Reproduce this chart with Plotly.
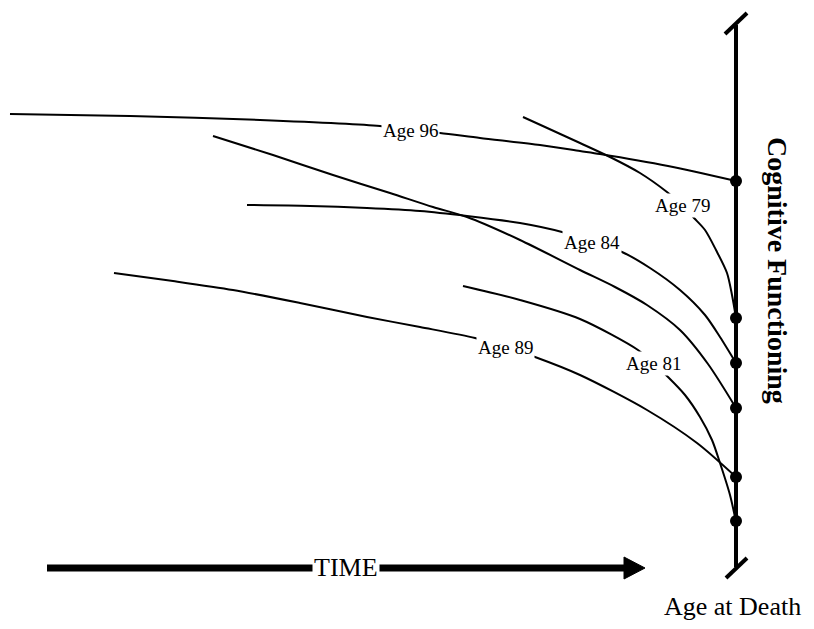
import plotly.graph_objects as go

# ---- data (time position, cognitive-functioning position; screen-like units) ----
age96_t = [10, 130, 260, 380, 410, 440, 480, 540, 580, 600, 668, 736]
age96_c = [114, 116, 120, 126, 130, 133, 138, 145, 151, 154, 166, 181]

age79_t = [523, 545, 580, 610, 640, 667, 682, 694, 705, 716, 727, 732, 736]
age79_c = [117, 127, 143, 157, 173, 192, 205, 218, 230, 250, 273, 295, 318]

age84_t = [247, 310, 367, 420, 467, 520, 562, 592, 622, 650, 680, 705, 720, 736]
age84_c = [205, 206, 208, 211, 216, 223, 232, 242, 252, 268, 290, 315, 337, 363]

unl_t = [213, 273, 333, 390, 433, 467, 520, 580, 615, 647, 680, 708, 736]
unl_c = [136, 155, 175, 193, 207, 217, 240, 270, 287, 305, 330, 364, 408]

age89_t = [114, 173, 233, 300, 367, 420, 475, 505, 535, 580, 647, 697, 736]
age89_c = [273, 281, 290, 303, 317, 327, 338, 347, 357, 375, 410, 443, 477]

age81_t = [463, 520, 580, 638, 653, 668, 685, 700, 712, 720, 730, 736]
age81_c = [286, 300, 319, 350, 363, 377, 395, 417, 440, 463, 495, 522]

curve_names = ["Age 96", "Age 79", "Age 84", "", "Age 89", "Age 81"]
curve_t = [age96_t, age79_t, age84_t, unl_t, age89_t, age81_t]
curve_c = [age96_c, age79_c, age84_c, unl_c, age89_c, age81_c]
label_index = [4, 6, 7, None, 7, 4]

death_t = 736
death_c = [181, 318, 363, 408, 477, 521]

# ---- figure ----
fig = go.Figure()
for t, c in zip(curve_t, curve_c):
    fig.add_trace(go.Scatter(x=t, y=c, mode="lines",
                             line=dict(color="black", width=2, shape="spline", smoothing=0.8),
                             hoverinfo="skip", showlegend=False))

fig.add_trace(go.Scatter(x=[death_t] * len(death_c), y=death_c, mode="markers",
                         marker=dict(color="black", size=12), showlegend=False, hoverinfo="skip"))

serif = "Liberation Serif"
for name, t, c, idx in zip(curve_names, curve_t, curve_c, label_index):
    if idx is None:
        continue
    fig.add_annotation(x=t[idx], y=c[idx], text=name, showarrow=False,
                       font=dict(family=serif, size=19, color="black"),
                       bgcolor="white", borderpad=1)

shapes = [
    # vertical age-at-death axis
    dict(type="line", x0=736, x1=736, y0=25, y1=567, line=dict(color="black", width=4)),
    dict(type="line", x0=725, x1=747, y0=34, y1=13, line=dict(color="black", width=4)),
    dict(type="line", x0=726, x1=747, y0=578, y1=558, line=dict(color="black", width=4)),
    # time arrow
    dict(type="line", x0=47, x1=628, y0=568, y1=568, line=dict(color="black", width=7)),
    dict(type="path", path="M 624 557 L 645 568 L 624 579 Z",
         fillcolor="black", line=dict(color="black", width=1)),
]
fig.update_layout(shapes=shapes)

fig.add_annotation(x=346, y=567, text="TIME", showarrow=False,
                   font=dict(family=serif, size=26, color="black"), bgcolor="white", borderpad=1)
fig.add_annotation(x=803, y=606, text="Age at Death", showarrow=False, xanchor="right",
                   font=dict(family=serif, size=26, color="black"))
fig.add_annotation(x=778, y=270, text="<b>Cognitive Functioning</b>", showarrow=False,
                   textangle=90, font=dict(family=serif, size=28, color="black"))

# the page adds an 8px body margin; offset the ranges so units match window pixels
fig.update_layout(
    width=806, height=613,
    margin=dict(l=0, r=0, t=0, b=0),
    paper_bgcolor="white", plot_bgcolor="white",
    xaxis=dict(range=[8, 814], visible=False, fixedrange=True),
    yaxis=dict(range=[621, 8], visible=False, fixedrange=True),
)

fig.write_html("out.html")
